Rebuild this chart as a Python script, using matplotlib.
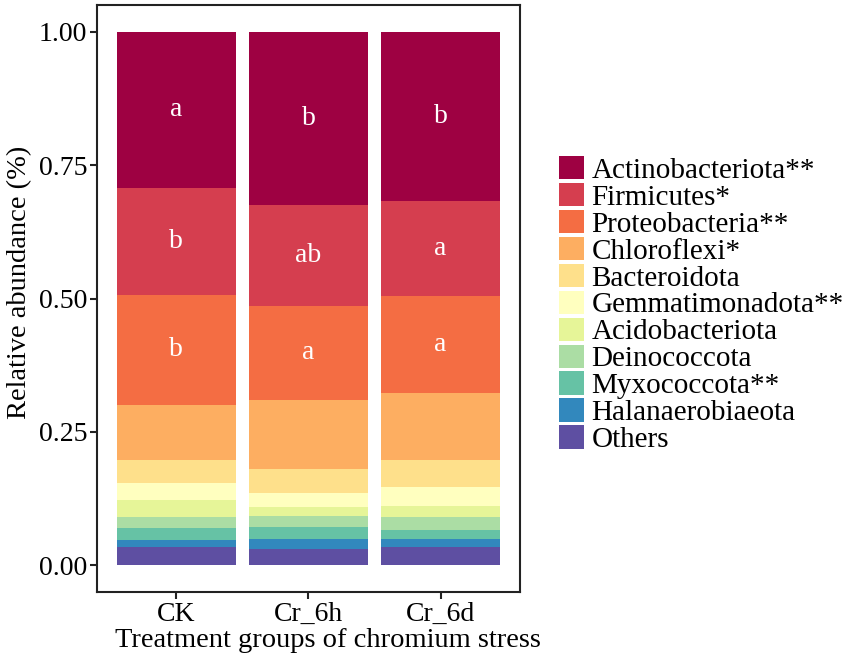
import matplotlib.pyplot as plt
import numpy as np

groups = ['CK', 'Cr_6h', 'Cr_6d']
phyla = ['Actinobacteriota**', 'Firmicutes*', 'Proteobacteria**', 'Chloroflexi*',
         'Bacteroidota', 'Gemmatimonadota**', 'Acidobacteriota', 'Deinococcota',
         'Myxococcota**', 'Halanaerobiaeota', 'Others']
colors = ['#9E0142', '#D53E4F', '#F46D43', '#FDAE61', '#FEE08B', '#FFFFBF',
          '#E6F598', '#ABDDA4', '#66C2A5', '#3288BD', '#5E4FA2']

# relative abundance per phylum (CK, Cr_6h, Cr_6d)
actino = [0.292, 0.324, 0.317]
firmi = [0.201, 0.189, 0.179]
proteo = [0.206, 0.178, 0.182]
chloro = [0.104, 0.129, 0.125]
bacter = [0.043, 0.044, 0.051]
gemma = [0.032, 0.026, 0.035]
acido = [0.031, 0.018, 0.021]
deino = [0.022, 0.021, 0.024]
myxo = [0.022, 0.021, 0.017]
halan = [0.013, 0.019, 0.015]
others = [0.034, 0.031, 0.034]
values = [actino, firmi, proteo, chloro, bacter, gemma, acido, deino, myxo, halan, others]

# significance letters for the top three phyla
letters = {0: ['a', 'b', 'b'], 1: ['b', 'ab', 'a'], 2: ['b', 'a', 'a']}

plt.rcParams['font.family'] = ['Liberation Serif', 'DejaVu Serif']

fig = plt.figure(figsize=(8.51, 6.65), dpi=100)
ax = fig.add_axes([0.114, 0.110, 0.497, 0.882])

x = np.arange(1, len(groups) + 1)
# stack from the bottom: Others first
bottom = np.zeros(len(groups))
stack_bottoms = {}
for i in range(len(phyla) - 1, -1, -1):
    v = np.array(values[i])
    ax.bar(x, v, width=0.9, bottom=bottom, color=colors[i], label=phyla[i], linewidth=0)
    stack_bottoms[i] = bottom.copy()
    bottom = bottom + v

for i, labs in letters.items():
    for j, lab in enumerate(labs):
        y = stack_bottoms[i][j] + values[i][j] / 2
        ax.text(x[j], y, lab, ha='center', va='center', color='white', fontsize=20)

ax.set_xlim(0.4, 3.6)
ax.set_ylim(-0.05, 1.05)
ax.set_xticks(x)
ax.set_xticklabels(groups, fontsize=20)
ax.set_yticks([0, 0.25, 0.5, 0.75, 1.0])
ax.set_yticklabels(['0.00', '0.25', '0.50', '0.75', '1.00'], fontsize=20)
ax.tick_params(direction='out', length=5, width=1.5, color='#222222', pad=2)
for s in ax.spines.values():
    s.set_linewidth(1.5)
    s.set_color('#222222')
ax.set_ylabel('Relative abundance (%)', fontsize=20.5, labelpad=5)
ax.set_xlabel('Treatment groups of chromium stress', fontsize=20.5, labelpad=1)
ax.yaxis.label.set_y(0.527)
ax.xaxis.label.set_x(0.545)

handles, labels = ax.get_legend_handles_labels()
fig.legend(handles[::-1], labels[::-1], loc='center left', bbox_to_anchor=(0.657, 0.542),
           frameon=False, fontsize=21, handlelength=0.86, handleheight=0.86,
           handletextpad=0.25, labelspacing=-0.03, borderaxespad=0, borderpad=0)

fig.savefig('out.png', dpi=100)
